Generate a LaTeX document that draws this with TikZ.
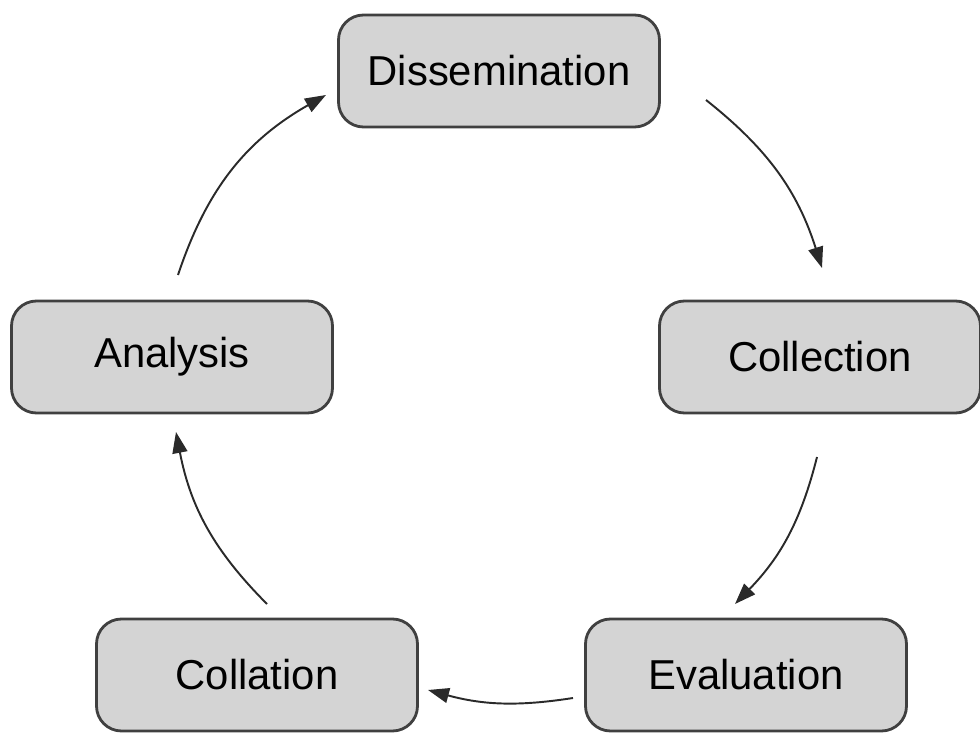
\documentclass[tikz,border=0pt]{standalone}
\usepackage{fontspec}
\setmainfont{Liberation Sans}
\usetikzlibrary{arrows.meta}

\definecolor{boxfill}{HTML}{D4D4D4}
\definecolor{boxline}{HTML}{404040}
\definecolor{arrline}{HTML}{2A2A2A}

\begin{document}
\begin{tikzpicture}[main/.style = {draw=boxline, line width=1.6pt, fill=boxfill, rounded corners=0.5cm, minimum width=6.42cm, minimum height=2.24cm, font=\fontsize{23.8pt}{28pt}\selectfont},
	arr/.style = {draw=arrline, line width=1.1pt, -{Triangle[length=0.42cm,width=0.3cm]}}]
			\useasboundingbox (0,0) rectangle (19.6,14.66);
			\node[main] (diss) at (9.98,13.24) {Dissemination};
			\node[main] (coll) at (16.40,7.52) {Collection};
			\node[main] (eval) at (14.92,1.16) {Evaluation};
			\node[main] (colla) at (5.14,1.16) {Collation};
			\node[main] (anal) at (3.44,7.52) {Analysis};
			% arrow ends on the circle round the boxes
			\coordinate (a1) at (14.12,12.66);
			\coordinate (a2) at (16.44,9.30);
			\coordinate (b1) at (16.34,5.52);
			\coordinate (b2) at (14.70,2.58);
			\coordinate (c1) at (11.46,0.70);
			\coordinate (c2) at (8.56,0.86);
			\coordinate (d1) at (5.34,2.58);
			\coordinate (d2) at (3.52,6.02);
			\coordinate (e1) at (3.56,9.16);
			\coordinate (e2) at (6.52,12.76);
			\draw[arr] (a1) to [bend left=17] (a2);
			\draw[arr] (b1) to [bend left=15] (b2);
			\draw[arr] (c1) to [bend left=12] (c2);
			\draw[arr] (d1) to [bend left=17] (d2);
			\draw[arr] (e1) to [bend left=21] (e2);
		\end{tikzpicture}
\end{document}
